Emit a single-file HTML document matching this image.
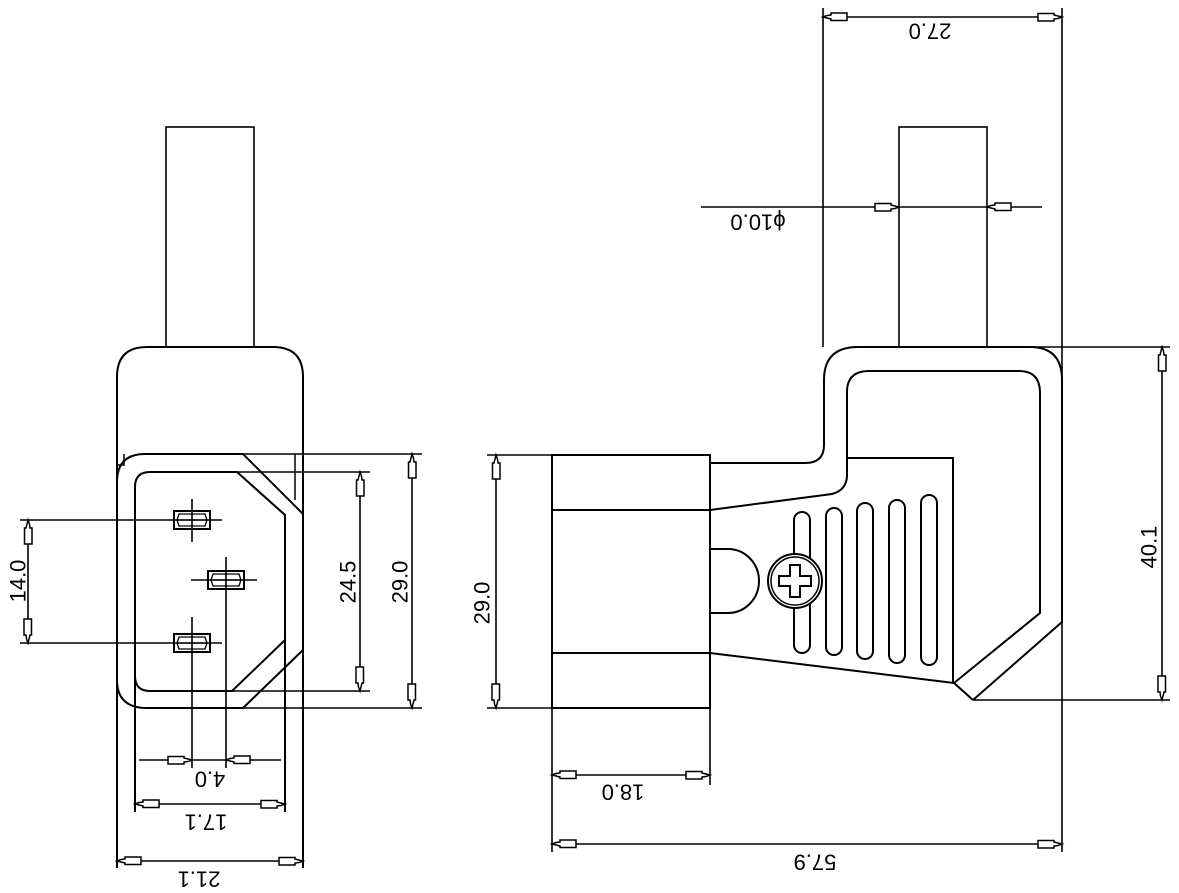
<!DOCTYPE html>
<html><head><meta charset="utf-8"><style>
html,body{margin:0;padding:0;background:#fff;}
svg{display:block;}
text{font-family:"Liberation Sans",sans-serif;font-size:22px;fill:#000;}
</style></head><body>
<svg width="1179" height="893" viewBox="0 0 1179 893" xmlns="http://www.w3.org/2000/svg">
<defs>
<polygon id="a" points="0,0 4,-1.5 8,-2 8,-4 24,-4 24,3.5 8,3.5 8,2" fill="#fff" stroke="#000" stroke-width="1.5"/>
</defs>
<g fill="none" stroke="#000" stroke-width="2">
<!-- LEFT VIEW -->
<rect x="166" y="127" width="88" height="220" stroke-width="1.6"/>
<path d="M117,868 L117,377 Q117,347 147,347 L273,347 Q303,347 303,377 L303,868"/>
<path d="M117,482 Q117,454 145,454 L243,454 L303,514 M303,650 L243,708 L147,708 Q117,708 117,680"/>
<path d="M135,812 L135,487 Q135,472 150,472 L237,472 L285,515 L285,812 M285,640 L232,691 L150,691 Q135,691 135,676"/>
<path d="M295,454 L295,500 M117,465 L124,465 L124,454" stroke-width="1.5"/>
<!-- ext lines -->
<g stroke-width="1.6">
<path d="M145,454 L422,454 M147,708 L422,708 M237,472 L370,472 M232,691 L370,691"/>
<path d="M20,520 L222,520 M20,643 L222,643 M192,499 L192,542 M192,617 L192,768 M191,580 L257,580 M226,557 L226,768"/>
<path d="M28,520 L28,643 M360,472 L360,691 M412,454 L412,708"/>
<path d="M139,760 L281,760 M135,804 L285,804 M117,861 L303,861"/>
</g>
<!-- pins -->
<g stroke-width="2">
<rect x="174" y="511" width="36" height="18"/><path d="M179,514 L205,514 L207,520 L205,526 L179,526 L177,520 Z M177,520 L207,520" stroke-width="1.3"/>
<rect x="208" y="571" width="36" height="18"/><path d="M213,574 L239,574 L241,580 L239,586 L213,586 L211,580 Z M211,580 L241,580" stroke-width="1.3"/>
<rect x="174" y="634" width="36" height="18"/><path d="M179,637 L205,637 L207,643 L205,649 L179,649 L177,643 Z M177,643 L207,643" stroke-width="1.3"/>
</g>
<!-- RIGHT VIEW -->
<rect x="899" y="127" width="88" height="220" stroke-width="1.6"/>
<rect x="552" y="455" width="158" height="253"/>
<path d="M552,510 L710,510 M552,653 L710,653"/>
<path d="M710,463 L805,463 Q824,463 824,445 L824,380 Q824,347 858,347 L1030,347 Q1062,347 1062,380 L1062,622 L973,700"/>
<path d="M710,510 L832,494 Q847,490 847,475 L847,392 Q847,371 869,371 L1019,371 Q1040,371 1040,393 L1040,613 L954,683 L973,700"/>
<path d="M710,653 L954,683 M847,458 L953,458 L953,683"/>
<path d="M710,549 L728,549 A31,32 0 0 1 728,613 L710,613"/>
<rect x="794" y="512" width="16" height="141" rx="8"/>
<rect x="826" y="508" width="16" height="147" rx="8"/>
<rect x="857" y="503" width="16" height="156" rx="8"/>
<rect x="889" y="500" width="16" height="163" rx="8"/>
<rect x="921" y="495" width="16" height="170" rx="8"/>
<circle cx="795" cy="581" r="27" fill="#fff" stroke-width="2"/>
<circle cx="795" cy="581" r="24" stroke-width="1.5"/>
<path d="M790,565 L800,565 L800,576 L811,576 L811,586 L800,586 L800,597 L790,597 L790,586 L779,586 L779,576 L790,576 Z"/>
<g stroke-width="1.6">
<path d="M823,8 L823,347 M1062,8 L1062,852 M823,17 L1062,17"/>
<path d="M701,207 L1042,207"/>
<path d="M987,347 L1170,347 M973,700 L1170,700 M1162,347 L1162,700"/>
<path d="M487,455 L552,455 M487,708 L552,708 M496,455 L496,708"/>
<path d="M552,708 L552,852 M710,708 L710,785 M552,775 L710,775 M552,844 L1062,844"/>
</g>
</g>
<!-- arrows -->
<use href="#a" transform="translate(28,520) rotate(90)"/>
<use href="#a" transform="translate(28,643) rotate(-90)"/>
<use href="#a" transform="translate(360,472) rotate(90)"/>
<use href="#a" transform="translate(360,691) rotate(-90)"/>
<use href="#a" transform="translate(412,454) rotate(90)"/>
<use href="#a" transform="translate(412,708) rotate(-90)"/>
<use href="#a" transform="translate(192,760) rotate(180)"/>
<use href="#a" transform="translate(226,760)"/>
<use href="#a" transform="translate(135,804)"/>
<use href="#a" transform="translate(285,804) rotate(180)"/>
<use href="#a" transform="translate(117,861)"/>
<use href="#a" transform="translate(303,861) rotate(180)"/>
<use href="#a" transform="translate(823,17)"/>
<use href="#a" transform="translate(1062,17) rotate(180)"/>
<use href="#a" transform="translate(899,207) rotate(180)"/>
<use href="#a" transform="translate(987,207)"/>
<use href="#a" transform="translate(1162,347) rotate(90)"/>
<use href="#a" transform="translate(1162,700) rotate(-90)"/>
<use href="#a" transform="translate(496,455) rotate(90)"/>
<use href="#a" transform="translate(496,708) rotate(-90)"/>
<use href="#a" transform="translate(552,775)"/>
<use href="#a" transform="translate(710,775) rotate(180)"/>
<use href="#a" transform="translate(552,844)"/>
<use href="#a" transform="translate(1062,844) rotate(180)"/>
<!-- labels -->
<text transform="translate(18,581) rotate(-90)" text-anchor="middle" dominant-baseline="central">14.0</text>
<text transform="translate(348,582) rotate(-90)" text-anchor="middle" dominant-baseline="central">24.5</text>
<text transform="translate(400,582) rotate(-90)" text-anchor="middle" dominant-baseline="central">29.0</text>
<text transform="translate(482,603) rotate(-90)" text-anchor="middle" dominant-baseline="central">29.0</text>
<text transform="translate(1149,547) rotate(-90)" text-anchor="middle" dominant-baseline="central">40.1</text>
<text transform="translate(210,779) rotate(180)" text-anchor="middle" dominant-baseline="central">4.0</text>
<text transform="translate(206,822) rotate(180)" text-anchor="middle" dominant-baseline="central">17.1</text>
<text transform="translate(199,879) rotate(180)" text-anchor="middle" dominant-baseline="central">21.1</text>
<text transform="translate(930,31) rotate(180)" text-anchor="middle" dominant-baseline="central">27.0</text>
<text transform="translate(758,222) rotate(180)" text-anchor="middle" dominant-baseline="central">ϕ10.0</text>
<text transform="translate(623,792) rotate(180)" text-anchor="middle" dominant-baseline="central">18.0</text>
<text transform="translate(815,862) rotate(180)" text-anchor="middle" dominant-baseline="central">57.9</text>
</svg>
</body></html>
